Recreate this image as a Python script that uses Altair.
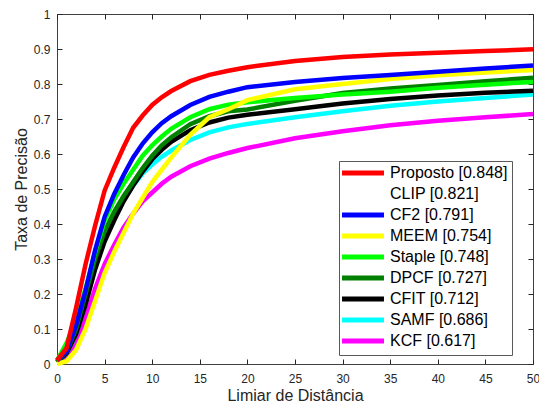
import altair as alt
import pandas as pd

# ---- data ----
x_vals = [0, 1, 2, 3, 4, 5, 6, 7, 8, 9, 10, 11, 12, 14, 16, 18, 20, 25, 30, 35, 40, 45, 50]

proposto = [0.01, 0.045, 0.16, 0.285, 0.395, 0.495, 0.56, 0.62, 0.675, 0.71, 0.74, 0.762, 0.78, 0.808, 0.826, 0.838, 0.848, 0.866, 0.877, 0.884, 0.889, 0.894, 0.899]
cf2 = [0.01, 0.035, 0.11, 0.21, 0.325, 0.42, 0.485, 0.54, 0.59, 0.63, 0.662, 0.688, 0.708, 0.74, 0.763, 0.778, 0.791, 0.806, 0.817, 0.826, 0.835, 0.844, 0.853]
meem = [0.0, 0.008, 0.04, 0.1, 0.18, 0.26, 0.32, 0.375, 0.43, 0.475, 0.52, 0.555, 0.59, 0.655, 0.705, 0.728, 0.754, 0.785, 0.8, 0.814, 0.825, 0.833, 0.84]
staple = [0.01, 0.06, 0.125, 0.215, 0.32, 0.41, 0.47, 0.515, 0.555, 0.595, 0.625, 0.65, 0.672, 0.705, 0.728, 0.741, 0.748, 0.76, 0.77, 0.778, 0.789, 0.798, 0.806]
dpcf = [0.005, 0.035, 0.1, 0.2, 0.3, 0.38, 0.435, 0.48, 0.52, 0.56, 0.595, 0.625, 0.648, 0.685, 0.708, 0.722, 0.727, 0.752, 0.774, 0.787, 0.797, 0.808, 0.818]
cfit = [0.005, 0.03, 0.085, 0.17, 0.27, 0.35, 0.41, 0.465, 0.51, 0.55, 0.585, 0.612, 0.635, 0.668, 0.69, 0.704, 0.712, 0.728, 0.744, 0.757, 0.767, 0.775, 0.781]
samf = [0.005, 0.03, 0.085, 0.175, 0.275, 0.36, 0.42, 0.47, 0.51, 0.545, 0.57, 0.592, 0.61, 0.64, 0.662, 0.676, 0.686, 0.705, 0.722, 0.738, 0.75, 0.76, 0.77]
kcf = [0.005, 0.02, 0.055, 0.13, 0.215, 0.285, 0.34, 0.39, 0.43, 0.465, 0.49, 0.515, 0.535, 0.565, 0.587, 0.603, 0.617, 0.645, 0.665, 0.682, 0.695, 0.705, 0.714]

legend_names = ["Proposto [0.848]", "CLIP [0.821]", "CF2 [0.791]", "MEEM [0.754]",
                "Staple [0.748]", "DPCF [0.727]", "CFIT [0.712]", "SAMF [0.686]", "KCF [0.617]"]
legend_colors = ["#ff0000", "#ffffff", "#0000ff", "#ffff00", "#00ff00", "#007f00",
                 "#000000", "#00ffff", "#ff00ff"]

# drawing order (first drawn at the bottom)
series = [
    ("KCF [0.617]", kcf),
    ("SAMF [0.686]", samf),
    ("CFIT [0.712]", cfit),
    ("DPCF [0.727]", dpcf),
    ("Staple [0.748]", staple),
    ("MEEM [0.754]", meem),
    ("CF2 [0.791]", cf2),
    ("Proposto [0.848]", proposto),
]

x_ticks = list(range(0, 51, 5))
y_ticks = [0, 0.1, 0.2, 0.3, 0.4, 0.5, 0.6, 0.7, 0.8, 0.9, 1]

FONT = "Liberation Sans"
AX = "#262626"

x_scale = alt.Scale(domain=[0, 50], nice=False, zero=False)
y_scale = alt.Scale(domain=[0, 1], nice=False, zero=False)
color_scale = alt.Scale(domain=legend_names, range=legend_colors)

legend = alt.Legend(
    title=None,
    orient="none", legendX=282, legendY=147,
    symbolType="M-4,0H4", symbolSize=110, symbolStrokeWidth=5,
    symbolOffset=12, labelOffset=19,
    labelFont=FONT, labelFontSize=16, labelColor="#000000",
    strokeColor="#595959", fillColor="#ffffff", padding=4, rowPadding=1,
    labelLimit=400,
)

axis_x_main = alt.Axis(orient="bottom", values=x_ticks, title="Limiar de Distância",
                       offset=-5, tickSize=5, domain=False, grid=False,
                       labelPadding=9, titlePadding=3, labelFlush=False, labelOverlap=False)
axis_y_main = alt.Axis(orient="left", values=y_ticks, title="Taxa de Precisão", format="~g",
                       offset=-5, tickSize=5, domain=False, grid=False,
                       labelPadding=7, titlePadding=4, labelFlush=False, labelOverlap=False)
axis_x_top = alt.Axis(orient="top", values=x_ticks, title=None, labels=False,
                      offset=-5, tickSize=5, domain=False, grid=False)
axis_y_right = alt.Axis(orient="right", values=y_ticks, title=None, labels=False,
                        offset=-5, tickSize=5, domain=False, grid=False)

layers = []
for i, (name, vals) in enumerate(series):
    df = pd.DataFrame({"x": x_vals, "y": vals, "name": [name] * len(x_vals)})
    if i == 0:
        ax_x, ax_y = axis_x_main, axis_y_main
    elif i == 1:
        ax_x, ax_y = axis_x_top, axis_y_right
    else:
        ax_x, ax_y = None, None
    layer = alt.Chart(df).mark_line(strokeWidth=4.5).encode(
        x=alt.X("x:Q", scale=x_scale, axis=ax_x),
        y=alt.Y("y:Q", scale=y_scale, axis=ax_y),
        color=alt.Color("name:N", scale=color_scale, legend=legend),
    )
    layers.append(layer)

chart = (
    alt.layer(*layers)
    .resolve_axis(x="independent", y="independent")
    .properties(width=476, height=350,
                autosize=alt.AutoSizeParams(type="none"),
                padding={"left": 49, "top": 6, "right": 6, "bottom": 38})
    .configure_view(stroke="#404040", strokeWidth=1)
    .configure_axis(labelFont=FONT, titleFont=FONT, labelFontSize=12, titleFontSize=16,
                    labelColor=AX, titleColor=AX, tickColor=AX, titleFontWeight="normal",
                    tickWidth=1)
)

chart.save("out.html", embed_options={"renderer": "svg", "actions": False})
